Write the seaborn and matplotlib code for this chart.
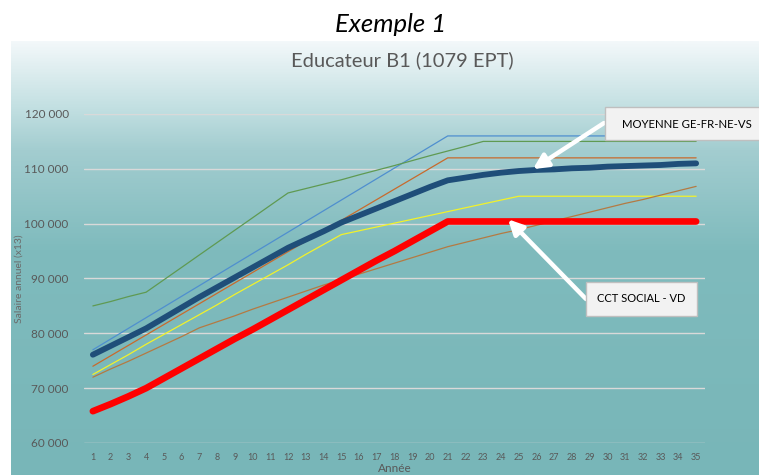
import numpy as np
import pandas as pd
import matplotlib
matplotlib.use("Agg")
import matplotlib.pyplot as plt
from matplotlib.patches import Rectangle
from matplotlib.colors import LinearSegmentedColormap
import seaborn as sns

# ---- data -------------------------------------------------------------
annees = list(range(1, 36))

ge_bleu = [77000, 78950, 80900, 82850, 84800, 86750, 88700, 90650, 92600, 94550,
           96500, 98450, 100400, 102350, 104300, 106250, 108200, 110150, 112100, 114050,
           116000, 116000, 116000, 116000, 116000, 116000, 116000, 116000, 116000, 116000,
           116000, 116000, 116000, 116000, 116000]

vert = [85000, 85800, 86700, 87500, 89760, 92020, 94290, 96550, 98810, 101070,
        103340, 105600, 106400, 107200, 108000, 108900, 109750, 110600, 111500, 112400,
        113250, 114100, 115000, 115000, 115000, 115000, 115000, 115000, 115000, 115000,
        115000, 115000, 115000, 115000, 115000]

orange = [74000, 75900, 77800, 79700, 81600, 83500, 85400, 87300, 89200, 91100,
          93000, 94900, 96800, 98700, 100600, 102500, 104400, 106300, 108200, 110100,
          112000, 112000, 112000, 112000, 112000, 112000, 112000, 112000, 112000, 112000,
          112000, 112000, 112000, 112000, 112000]

jaune = [72500, 74300, 76100, 78000, 79800, 81600, 83400, 85200, 87100, 88900,
         90700, 92500, 94400, 96200, 98000, 98700, 99400, 100100, 100800, 101500,
         102200, 102900, 103600, 104300, 105000, 105000, 105000, 105000, 105000, 105000,
         105000, 105000, 105000, 105000, 105000]

brun = [72000, 73500, 74900, 76400, 77900, 79400, 81000, 82100, 83200, 84400,
        85500, 86600, 87700, 88800, 89800, 90800, 91800, 92800, 93800, 94800,
        95800, 96600, 97400, 98200, 98900, 99700, 100500, 101300, 102100, 102900,
        103700, 104400, 105200, 106000, 106800]

moyenne = [76100, 77700, 79300, 80900, 82800, 84700, 86600, 88400, 90200, 92000,
           93800, 95600, 97100, 98600, 100200, 101500, 102800, 104100, 105400, 106700,
           107900, 108400, 108900, 109300, 109600, 109800, 109900, 110100, 110200, 110400,
           110500, 110600, 110700, 110900, 111000]

cct_vd = [65800, 67100, 68500, 70000, 71800, 73600, 75400, 77200, 79000, 80700,
          82500, 84300, 86100, 87900, 89700, 91500, 93300, 95000, 96800, 98600,
          100400, 100400, 100400, 100400, 100400, 100400, 100400, 100400, 100400, 100400,
          100400, 100400, 100400, 100400, 100400]

y_ticks = [60000, 70000, 80000, 90000, 100000, 110000, 120000]
y_tick_labels = ["60 000", "70 000", "80 000", "90 000", "100 000", "110 000", "120 000"]

# ---- style ------------------------------------------------------------
sns.set_theme(style="white")
plt.rcParams["font.family"] = ["Lato", "DejaVu Sans"]

W, H = 759, 475
fig = plt.figure(figsize=(W / 100, H / 100), dpi=100)
fig.patch.set_facecolor("white")

# chart area with vertical gradient (light at the top, teal below)
bg = fig.add_axes([11 / W, 0, (W - 11) / W, (H - 41) / H], zorder=-2)
grad_cmap = LinearSegmentedColormap.from_list(
    "fond", [(0.0, "#f3f8fa"), (0.15, "#c3e0e2"), (0.25, "#a3cdd0"),
             (0.48, "#7fbbbd"), (1.0, "#78b6b8")])
grad = np.linspace(0, 1, 256).reshape(-1, 1)
bg.imshow(grad, aspect="auto", cmap=grad_cmap, extent=[0, 1, 0, 1], origin="upper")
bg.set_axis_off()

# plotting area
ax = fig.add_axes([84 / W, 1 - 443 / H, (705 - 84) / W, (443 - 114) / H], zorder=0)
ax.patch.set_alpha(0)

series = [
    (ge_bleu, "#4f8fcf", 0.9),
    (vert, "#5f9a52", 0.9),
    (orange, "#c86a2c", 0.9),
    (jaune, "#f2f22a", 0.9),
    (brun, "#b47a42", 0.9),
]
for vals, col, lw in series:
    sns.lineplot(x=annees, y=vals, ax=ax, color=col, linewidth=lw)

sns.lineplot(x=annees, y=moyenne, ax=ax, color="#1f4e79", linewidth=4.2,
             solid_capstyle="round", solid_joinstyle="round")
sns.lineplot(x=annees, y=cct_vd, ax=ax, color="#ff0000", linewidth=4.8,
             solid_capstyle="round", solid_joinstyle="round")

ax.set_xlim(0.5, 35.5)
ax.set_ylim(60000, 120000)
ax.set_xticks(annees)
ax.set_xticklabels([str(a) for a in annees], fontsize=6.5, color="#595959")
ax.set_yticks(y_ticks)
ax.set_yticklabels(y_tick_labels, fontsize=8.5, color="#595959")
ax.tick_params(axis="both", length=0)
ax.tick_params(axis="x", pad=7)
ax.tick_params(axis="y", pad=11)
ax.grid(axis="y", color="#d9d9d9", linewidth=1.0)
ax.grid(axis="x", visible=False)
ax.set_axisbelow(True)
for s in ax.spines.values():
    s.set_visible(False)

ax.set_xlabel("Année", fontsize=8.5, color="#595959", labelpad=1)
ax.set_ylabel("Salaire annuel (x13)", fontsize=7.5, color="#6a6a6a", labelpad=1)

# titles
fig.text(391 / W, 1 - 24 / H, "Exemple 1", ha="center", va="center",
         fontsize=18.5, style="italic", color="black")
fig.text(402 / W, 1 - 60 / H, "Educateur B1 (1079 EPT)", ha="center", va="center",
         fontsize=14.5, color="#595959")

# callout boxes
fig.add_artist(Rectangle((605 / W, 1 - 140 / H), 170 / W, 33 / H,
                         transform=fig.transFigure, facecolor="#f2f2f2",
                         edgecolor="#bfbfbf", linewidth=1, zorder=5))
fig.text(622 / W, 1 - 124 / H, "MOYENNE GE-FR-NE-VS", ha="left", va="center",
         fontsize=8.2, color="black", zorder=6)

fig.add_artist(Rectangle((586 / W, 1 - 316 / H), 111 / W, 34 / H,
                         transform=fig.transFigure, facecolor="#f2f2f2",
                         edgecolor="#bfbfbf", linewidth=1, zorder=5))
fig.text(641 / W, 1 - 299 / H, "CCT SOCIAL - VD", ha="center", va="center",
         fontsize=8, color="black", zorder=6)

arrow = dict(arrowstyle="-|>", color="white", lw=3.2, mutation_scale=22,
             shrinkA=0, shrinkB=0)
ax.annotate("", xy=(25.8, moyenne[25] + 150), xycoords="data",
            xytext=(604, H - 123), textcoords="figure pixels",
            arrowprops=arrow, zorder=4, annotation_clip=False)
ax.annotate("", xy=(24.4, cct_vd[24] + 400), xycoords="data",
            xytext=(586, H - 299), textcoords="figure pixels",
            arrowprops=arrow, zorder=4, annotation_clip=False)

fig.savefig("out.png", dpi=100)
